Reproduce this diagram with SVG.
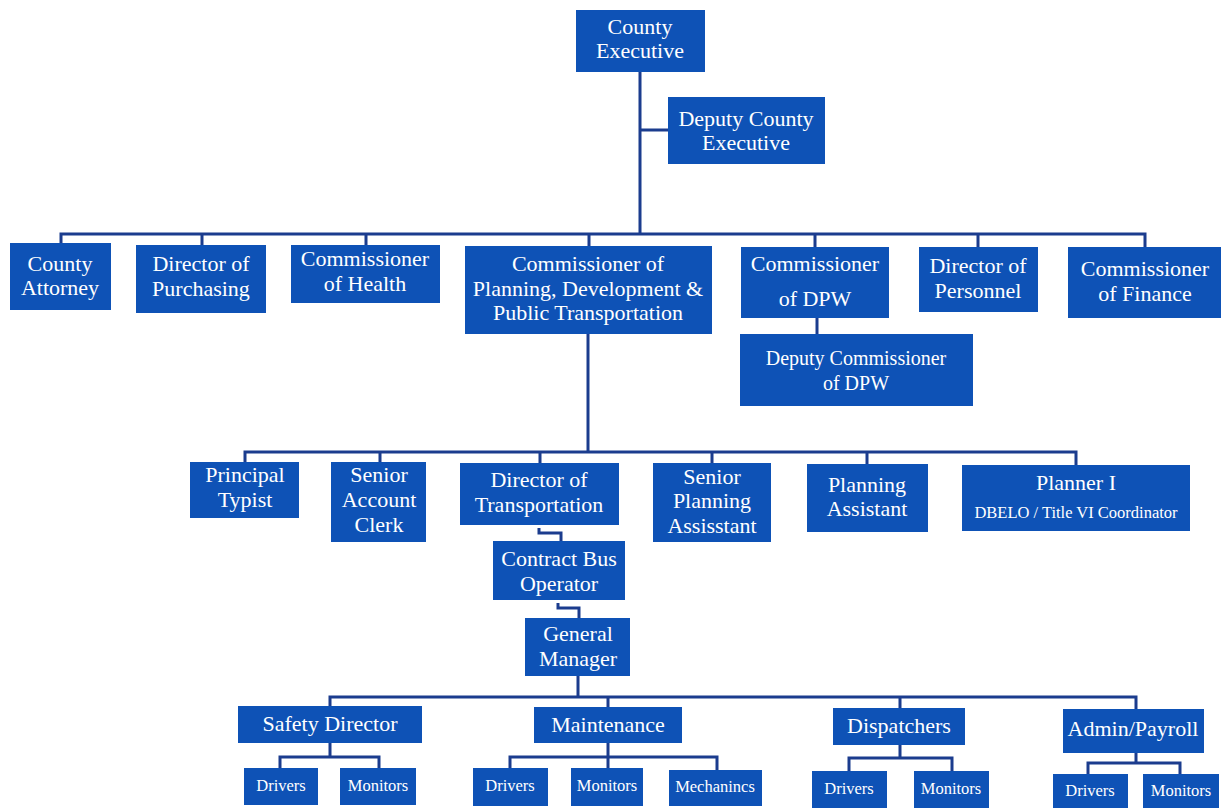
<svg xmlns="http://www.w3.org/2000/svg" width="1222" height="808" viewBox="0 0 1222 808">
<style>
.b{fill:#0e52b6}
.t{fill:#ffffff;font-family:"Liberation Serif","Times New Roman",serif;font-size:22px;text-anchor:middle}
.m{font-size:20px}
.s{font-size:16.5px}
.ln{fill:none;stroke:#1b3c8e;stroke-width:3}
</style>
<rect width="1222" height="808" fill="#ffffff"/>
<g id="connectors" class="ln">
<path d="M640,72 V235 M640,130 H668"/>
<path d="M61,243 V234 H1145 V247 M202,234 V245 M366,234 V245 M589,234 V246 M815,234 V247 M978,234 V247"/>
<path d="M817,318 V334"/>
<path d="M588,334 V452"/>
<path d="M245,462 V452 H1076 V465 M380,452 V462 M540,452 V463 M712,452 V463 M867,452 V464"/>
<path d="M539,528 V533 H561 V541"/>
<path d="M558,603 V608 H579 V618"/>
<path d="M578,676 V697 M330,706 V697 H1136 V709 M608,697 V707 M900,697 V708"/>
<path d="M330,743 V757 M280,768 V757 H379 V768"/>
<path d="M608,743 V768 M510,768 V757 H717 V770"/>
<path d="M900,745 V758 M849,771 V758 H952 V771"/>
<path d="M1136,753 V763 M1088,774 V763 H1180 V774"/>
</g>
<g id="county-executive"><rect class="b" x="576" y="10" width="129" height="62"/><text class="t" x="640" y="34">County</text><text class="t" x="640" y="58">Executive</text></g>
<g id="deputy-county-executive"><rect class="b" x="668" y="97" width="157" height="67"/><text class="t" x="746" y="126">Deputy County</text><text class="t" x="746" y="150">Executive</text></g>
<g id="county-attorney"><rect class="b" x="10" y="243" width="101" height="67"/><text class="t" x="60" y="271">County</text><text class="t" x="60" y="295">Attorney</text></g>
<g id="director-purchasing"><rect class="b" x="136" y="245" width="130" height="68"/><text class="t" x="201" y="271">Director of</text><text class="t" x="201" y="296">Purchasing</text></g>
<g id="commissioner-health"><rect class="b" x="291" y="245" width="149" height="58"/><text class="t" x="365" y="266">Commissioner</text><text class="t" x="365" y="291">of Health</text></g>
<g id="commissioner-planning"><rect class="b" x="465" y="246" width="247" height="88"/><text class="t" x="588" y="271">Commissioner of</text><text class="t" x="588" y="296">Planning, Development &amp;</text><text class="t" x="588" y="320">Public Transportation</text></g>
<g id="commissioner-dpw"><rect class="b" x="741" y="247" width="148" height="71"/><text class="t" x="815" y="271">Commissioner</text><text class="t" x="815" y="306">of DPW</text></g>
<g id="director-personnel"><rect class="b" x="919" y="247" width="119" height="65"/><text class="t" x="978" y="273">Director of</text><text class="t" x="978" y="298">Personnel</text></g>
<g id="commissioner-finance"><rect class="b" x="1068" y="247" width="153" height="71"/><text class="t" x="1145" y="276">Commissioner</text><text class="t" x="1145" y="301">of Finance</text></g>
<g id="deputy-commissioner-dpw"><rect class="b" x="740" y="334" width="233" height="72"/><text class="t m" x="856" y="365">Deputy Commissioner</text><text class="t m" x="856" y="390">of DPW</text></g>
<g id="principal-typist"><rect class="b" x="190" y="462" width="109" height="56"/><text class="t" x="245" y="482">Principal</text><text class="t" x="245" y="507">Typist</text></g>
<g id="senior-account-clerk"><rect class="b" x="331" y="462" width="95" height="80"/><text class="t" x="379" y="482">Senior</text><text class="t" x="379" y="507">Account</text><text class="t" x="379" y="532">Clerk</text></g>
<g id="director-transportation"><rect class="b" x="460" y="463" width="159" height="62"/><text class="t" x="539" y="487">Director of</text><text class="t" x="539" y="512">Transportation</text></g>
<g id="senior-planning-assistant"><rect class="b" x="653" y="463" width="118" height="79"/><text class="t" x="712" y="484">Senior</text><text class="t" x="712" y="508">Planning</text><text class="t" x="712" y="533">Assisstant</text></g>
<g id="planning-assistant"><rect class="b" x="807" y="464" width="121" height="68"/><text class="t" x="867" y="492">Planning</text><text class="t" x="867" y="516">Assistant</text></g>
<g id="planner-i"><rect class="b" x="962" y="465" width="228" height="66"/><text class="t" x="1076" y="490">Planner I</text><text class="t s" x="1076" y="518">DBELO / Title VI Coordinator</text></g>
<g id="contract-bus-operator"><rect class="b" x="493" y="541" width="132" height="59"/><text class="t" x="559" y="566">Contract Bus</text><text class="t" x="559" y="591">Operator</text></g>
<g id="general-manager"><rect class="b" x="525" y="618" width="105" height="58"/><text class="t" x="578" y="641">General</text><text class="t" x="578" y="666">Manager</text></g>
<g id="safety-director"><rect class="b" x="238" y="706" width="184" height="37"/><text class="t" x="330" y="731">Safety Director</text></g>
<g id="maintenance"><rect class="b" x="534" y="707" width="148" height="36"/><text class="t" x="608" y="732">Maintenance</text></g>
<g id="dispatchers"><rect class="b" x="833" y="708" width="132" height="37"/><text class="t" x="899" y="733">Dispatchers</text></g>
<g id="admin-payroll"><rect class="b" x="1063" y="709" width="141" height="44"/><text class="t" x="1133" y="736">Admin/Payroll</text></g>
<g id="sd-drivers"><rect class="b" x="244" y="768" width="74" height="37"/><text class="t s" x="281" y="791">Drivers</text></g>
<g id="sd-monitors"><rect class="b" x="340" y="768" width="76" height="37"/><text class="t s" x="378" y="791">Monitors</text></g>
<g id="mt-drivers"><rect class="b" x="473" y="768" width="75" height="38"/><text class="t s" x="510" y="791">Drivers</text></g>
<g id="mt-monitors"><rect class="b" x="571" y="768" width="72" height="38"/><text class="t s" x="607" y="791">Monitors</text></g>
<g id="mt-mechanics"><rect class="b" x="669" y="770" width="93" height="36"/><text class="t s" x="715" y="792">Mechanincs</text></g>
<g id="ds-drivers"><rect class="b" x="812" y="771" width="75" height="37"/><text class="t s" x="849" y="794">Drivers</text></g>
<g id="ds-monitors"><rect class="b" x="914" y="771" width="75" height="37"/><text class="t s" x="951" y="794">Monitors</text></g>
<g id="ap-drivers"><rect class="b" x="1053" y="774" width="75" height="34"/><text class="t s" x="1090" y="796">Drivers</text></g>
<g id="ap-monitors"><rect class="b" x="1143" y="774" width="76" height="34"/><text class="t s" x="1181" y="796">Monitors</text></g>
</svg>
